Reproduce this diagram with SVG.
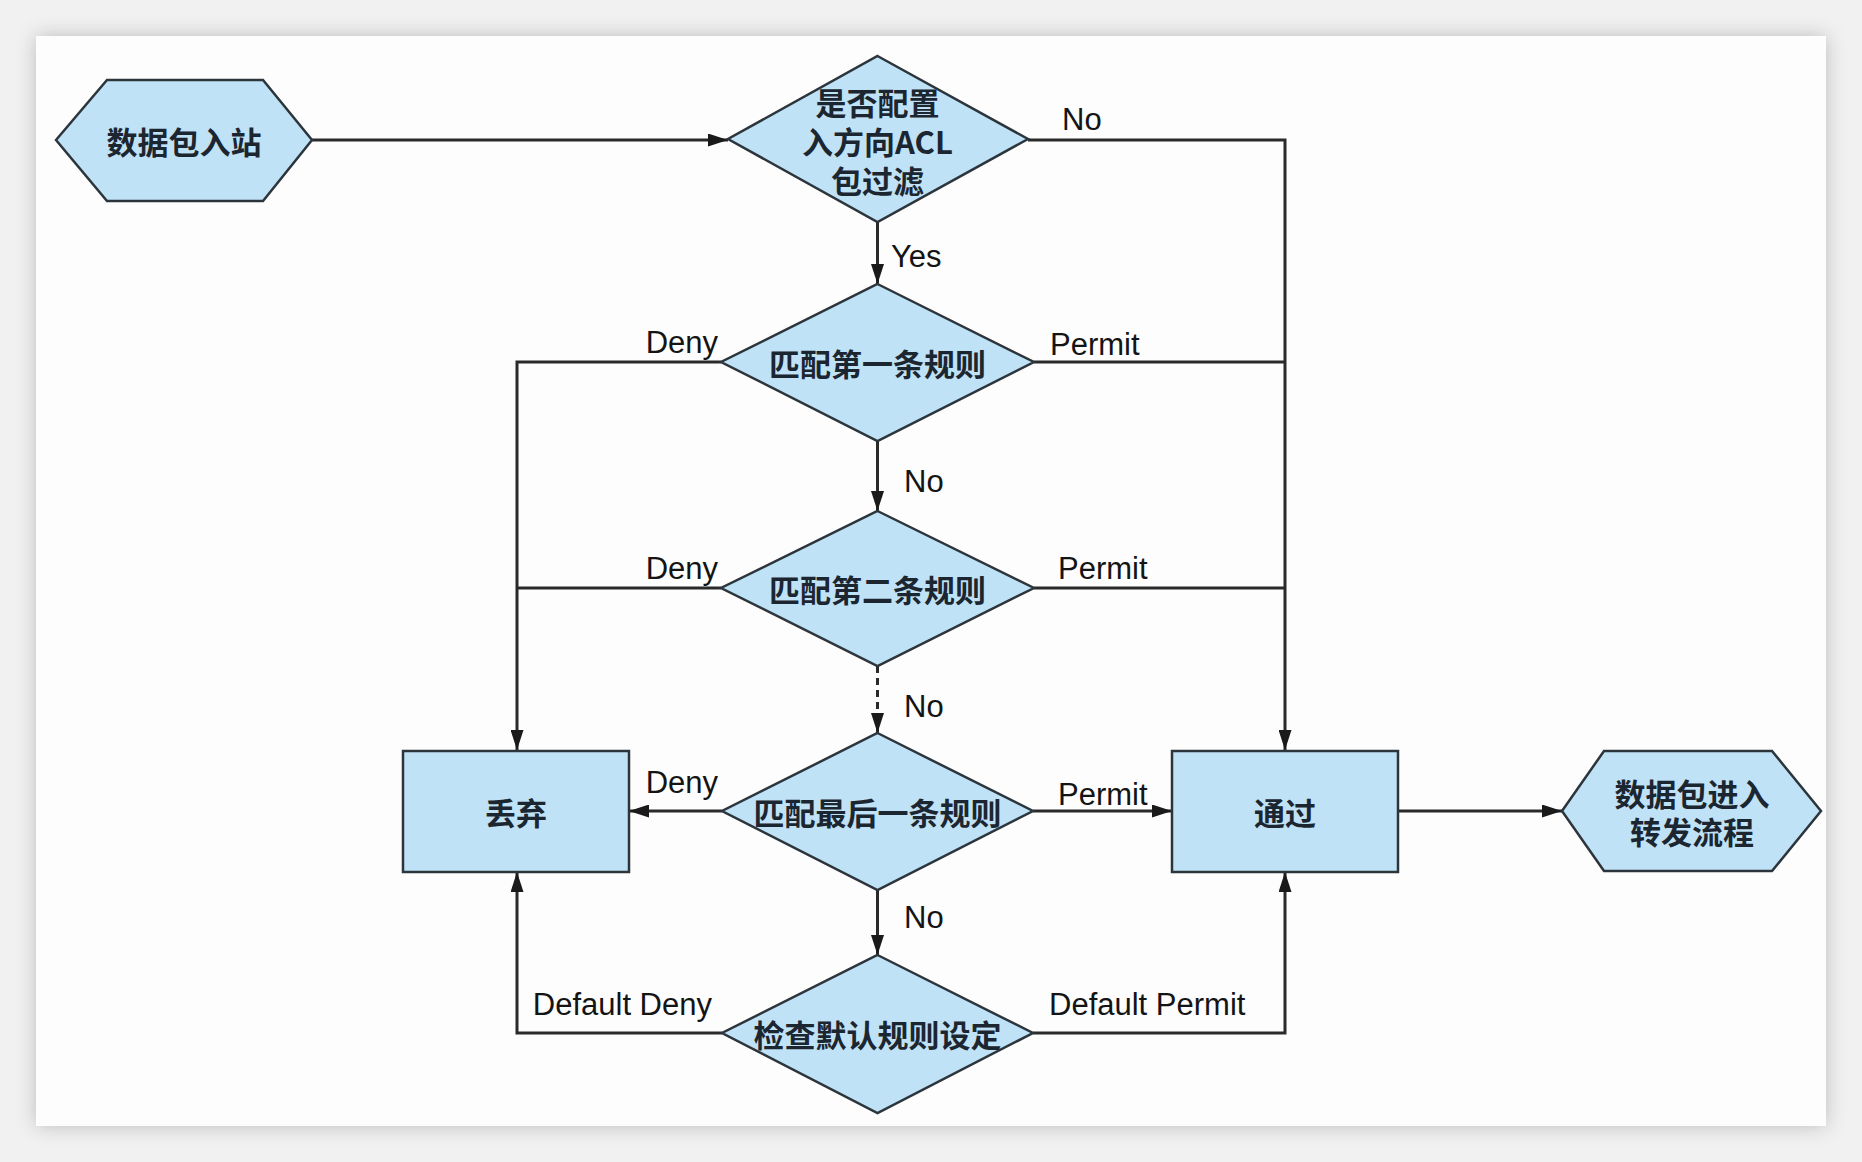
<svg xmlns="http://www.w3.org/2000/svg" width="1862" height="1162" viewBox="0 0 1862 1162">
<defs>
<filter id="shadow" x="-5%" y="-5%" width="110%" height="110%">
<feDropShadow dx="0" dy="0" stdDeviation="10" flood-color="#000" flood-opacity="0.22"/>
</filter>
<marker id="arr" viewBox="0 0 20 13" markerWidth="20" markerHeight="13" refX="20" refY="6.5" orient="auto" markerUnits="userSpaceOnUse">
<path d="M0,0 L20,6.5 L0,13 z" fill="#1a1a1a"/>
</marker>
<style>
.node{fill:#bfe2f7;stroke:#2c353b;stroke-width:2.5;}
.cn{font-family:"Noto Sans CJK SC","Noto Sans",sans-serif;font-size:31px;font-weight:bold;fill:#1c2630;text-anchor:middle;dominant-baseline:central;}
.lbl{font-family:"Liberation Sans",Arial,sans-serif;font-size:31px;fill:#141414;}
.edge{fill:none;stroke:#2a2a2a;stroke-width:3;}
.dash{stroke-dasharray:7 5;}
</style>
</defs>
<rect x="0" y="0" width="1862" height="1162" fill="#f1f1f1"/>
<rect x="36" y="36" width="1790" height="1090" fill="#fdfdfd" filter="url(#shadow)"/>

<g id="connectors">
<line class="edge" x1="312" y1="140" x2="728" y2="140" marker-end="url(#arr)"/>
<line class="edge" x1="877.5" y1="222" x2="877.5" y2="284" marker-end="url(#arr)"/>
<polyline class="edge" points="1028,140 1285,140 1285,750" marker-end="url(#arr)"/>
<line class="edge" x1="1034" y1="362" x2="1285" y2="362"/>
<line class="edge" x1="1034" y1="588" x2="1285" y2="588"/>
<polyline class="edge" points="721,362 517,362 517,750" marker-end="url(#arr)"/>
<line class="edge" x1="721" y1="588" x2="517" y2="588"/>
<line class="edge" x1="877.5" y1="441" x2="877.5" y2="511" marker-end="url(#arr)"/>
<line class="edge dash" x1="877.5" y1="666" x2="877.5" y2="733" marker-end="url(#arr)"/>
<line class="edge" x1="722" y1="811" x2="629" y2="811" marker-end="url(#arr)"/>
<line class="edge" x1="1033" y1="811" x2="1172" y2="811" marker-end="url(#arr)"/>
<line class="edge" x1="877.5" y1="890" x2="877.5" y2="955" marker-end="url(#arr)"/>
<polyline class="edge" points="722,1033 517,1033 517,872" marker-end="url(#arr)"/>
<polyline class="edge" points="1033,1033 1285,1033 1285,872" marker-end="url(#arr)"/>
<line class="edge" x1="1398" y1="811" x2="1562" y2="811" marker-end="url(#arr)"/>
<text class="lbl" x="1062" y="130">No</text>
<text class="lbl" x="891" y="267">Yes</text>
<text class="lbl" x="718" y="353" text-anchor="end">Deny</text>
<text class="lbl" x="1050" y="355">Permit</text>
<text class="lbl" x="904" y="492">No</text>
<text class="lbl" x="718" y="579" text-anchor="end">Deny</text>
<text class="lbl" x="1058" y="579">Permit</text>
<text class="lbl" x="904" y="717">No</text>
<text class="lbl" x="718" y="793" text-anchor="end">Deny</text>
<text class="lbl" x="1058" y="805">Permit</text>
<text class="lbl" x="904" y="928">No</text>
<text class="lbl" x="712" y="1015" text-anchor="end">Default Deny</text>
<text class="lbl" x="1049" y="1015">Default Permit</text>
</g>

<g id="start">
<polygon class="node" points="56,140 107,80 263,80 312,140 263,201 107,201"/>
<text class="cn" x="184" y="140">数据包入站</text>
</g>
<g id="check-acl">
<polygon class="node" points="877.5,56 1028,139 877.5,222 728,139"/>
<text class="cn" x="877.5" y="101">是否配置<tspan x="877.5" dy="39">入方向ACL</tspan><tspan x="877.5" dy="39">包过滤</tspan></text>
</g>
<g id="rule1">
<polygon class="node" points="877.5,284 1034,362 877.5,441 721,362"/>
<text class="cn" x="877.5" y="362">匹配第一条规则</text>
</g>
<g id="rule2">
<polygon class="node" points="877.5,511 1034,588 877.5,666 721,588"/>
<text class="cn" x="877.5" y="588">匹配第二条规则</text>
</g>
<g id="rule-last">
<polygon class="node" points="877.5,733 1033,811 877.5,890 722,811"/>
<text class="cn" x="877.5" y="811">匹配最后一条规则</text>
</g>
<g id="default-rule">
<polygon class="node" points="877.5,955 1033,1033 877.5,1113 722,1033"/>
<text class="cn" x="877.5" y="1033">检查默认规则设定</text>
</g>
<g id="drop">
<rect class="node" x="403" y="751" width="226" height="121"/>
<text class="cn" x="516" y="811">丢弃</text>
</g>
<g id="pass">
<rect class="node" x="1172" y="751" width="226" height="121"/>
<text class="cn" x="1285" y="811">通过</text>
</g>
<g id="forward">
<polygon class="node" points="1562,811 1604,751 1772,751 1821,811 1772,871 1604,871"/>
<text class="cn" x="1692" y="792">数据包进入<tspan x="1692" dy="38">转发流程</tspan></text>
</g>
</svg>
